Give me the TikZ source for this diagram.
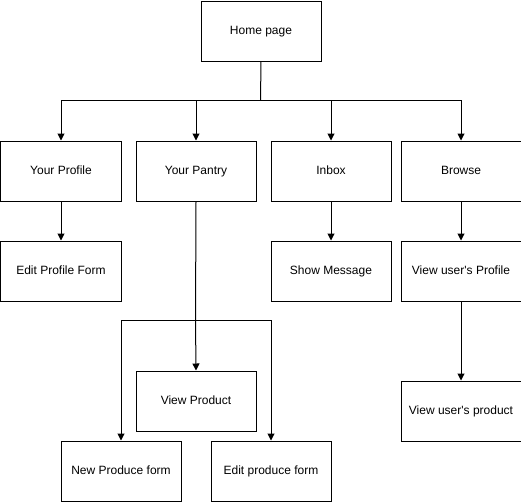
\documentclass[tikz,border=0pt]{standalone}
\usepackage{fontspec}
\setmainfont{Liberation Sans}
\usetikzlibrary{arrows.meta}
\begin{document}
\begin{tikzpicture}[x=1pt,y=-1pt,
  box/.style={draw=black,line width=1pt,minimum width=120pt,minimum height=60pt,inner sep=0pt,text height=8.6pt,text depth=2.4pt,anchor=north west,font=\fontsize{12}{14}\selectfont},
  conn/.style={draw=black,line width=1pt},
  arr/.style={conn,-{Triangle[length=7pt,width=7pt]}}]
\useasboundingbox (-0.5,-0.5) rectangle (520.5,500.5);
\node[box] (home) at (200,0) {Home page};
\node[box] (prof) at (0,140) {Your Profile};
\node[box] (pan) at (135,140) {Your Pantry};
\node[box] (inbox) at (270,140) {Inbox};
\node[box] (browse) at (400,140) {Browse};
\node[box] (epf) at (0,240) {Edit Profile Form};
\node[box] (msg) at (270,240) {Show Message};
\node[box] (vup) at (400,240) {View user\textquotesingle s Profile};
\node[box] (vp) at (135,370) {View Product};
\node[box] (vuprod) at (400,380) {View user\textquotesingle s product};
\node[box] (npf) at (60,440) {New Produce form};
\node[box] (edpf) at (210,440) {Edit produce form};
\coordinate (hj) at (260,100);
\coordinate (pj) at (195,320);
\draw[conn] (home.south) -- (hj);
\draw[arr] (hj) -| (prof.north);
\draw[arr] (hj) -| (pan.north);
\draw[arr] (hj) -| (inbox.north);
\draw[arr] (hj) -| (browse.north);
\draw[arr] (prof.south) -- (epf.north);
\draw[arr] (inbox.south) -- (msg.north);
\draw[arr] (browse.south) -- (vup.north);
\draw[arr] (vup.south) -- (vuprod.north);
\draw[conn] (pan.south) -- (pj);
\draw[arr] (pj) -- (vp.north);
\draw[arr] (pj) -| (npf.north);
\draw[arr] (pj) -| (edpf.north);
\end{tikzpicture}
\end{document}
